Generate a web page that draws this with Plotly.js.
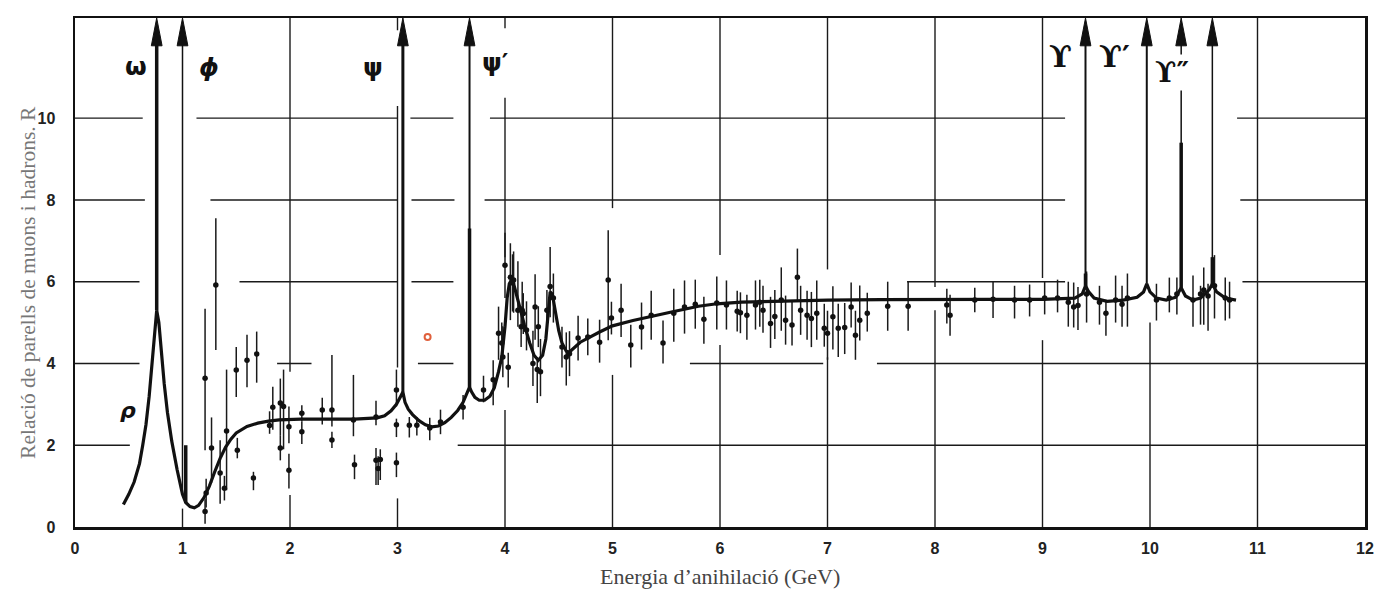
<!DOCTYPE html>
<html>
<head>
<meta charset="utf-8">
<script src="https://cdn.plot.ly/plotly-3.0.1.min.js"></script>
<style>html,body{margin:0;padding:0;background:#fff;}#chart{width:1377px;height:589px;}</style>
</head>
<body>
<div id="chart"></div>
<script>
// ---------- DATA ----------
// theoretical curve
const curveX = [0.45,0.5,0.55,0.6,0.63,0.66,0.69,0.715,0.735,0.76,0.78,0.8,0.83,0.86,0.9,0.95,1.0,1.03,1.07,1.11,1.15,1.2,1.25,1.3,1.35,1.4,1.45,1.5,1.6,1.7,1.8,1.9,2.1,2.4,2.6,2.81,2.88,2.94,2.99,3.03,3.05,3.07,3.1,3.14,3.2,3.26,3.32,3.38,3.44,3.5,3.56,3.61,3.65,3.67,3.69,3.72,3.76,3.81,3.86,3.9,3.94,3.97,4.0,4.02,4.04,4.06,4.08,4.11,4.14,4.18,4.23,4.27,4.31,4.35,4.38,4.4,4.42,4.44,4.47,4.5,4.53,4.57,4.6,4.65,4.7,4.88,5.0,5.19,5.4,5.57,5.8,5.97,6.2,6.6,7.0,7.5,8.0,8.5,9.0,9.3,9.37,9.40,9.43,9.48,9.6,9.75,9.88,9.94,9.97,10.0,10.06,10.15,10.24,10.29,10.33,10.4,10.47,10.55,10.58,10.62,10.7,10.8];
const curveY = [0.55,0.8,1.1,1.55,2.0,2.5,3.2,4.0,4.7,5.3,5.0,4.3,3.5,2.8,2.1,1.4,0.8,0.6,0.5,0.47,0.53,0.72,1.0,1.35,1.68,1.95,2.15,2.3,2.46,2.54,2.59,2.62,2.64,2.64,2.64,2.67,2.72,2.84,3.0,3.2,3.3,3.05,2.88,2.75,2.6,2.5,2.45,2.47,2.55,2.68,2.85,3.05,3.3,3.42,3.3,3.17,3.1,3.1,3.2,3.4,3.8,4.16,4.9,5.6,5.95,6.04,5.95,5.64,5.3,4.95,4.5,4.2,4.08,4.2,4.6,5.3,5.75,5.7,5.2,4.8,4.5,4.3,4.28,4.4,4.52,4.77,4.92,5.05,5.18,5.27,5.4,5.46,5.5,5.53,5.55,5.56,5.57,5.57,5.57,5.6,5.7,5.9,5.75,5.6,5.52,5.55,5.62,5.75,5.95,5.75,5.6,5.55,5.62,5.85,5.65,5.55,5.6,5.8,5.95,5.75,5.6,5.55];

// resonances (arrows to the top of the frame)
const resNames = ['ω','ϕ','ψ','ψ′','ϒ','ϒ′','ϒ″','ϒ(4S)'];
const resX     = [0.76, 1.0, 3.05, 3.67, 9.40, 9.97, 10.29, 10.58];
const resBase  = [5.3, 0.8, 3.3, 3.42, 5.9, 5.95, 5.85, 5.95];
// thick lower parts of some peaks
const spikeX    = [1.03, 3.67, 9.40, 10.29, 10.58];
const spikeBot  = [0.6, 3.42, 5.9, 5.85, 5.95];
const spikeTop  = [2.0, 7.3, 6.2, 9.4, 6.6];

// measured points of R with error bars
const ptX  = [1.31,1.21,1.22,1.21,1.27,1.35,1.41,1.39,1.5,1.6,1.69,1.51,1.66,1.84,1.91,1.94,1.99,1.91,1.99,1.81,2.11,2.11,2.3,2.39,2.39,2.59,2.6,2.8,2.8,2.82,2.84,2.99,2.99,2.99,3.11,3.18,3.3,3.4,3.61,3.8,3.89,3.94,3.97,3.98,4.03,4.0,4.05,4.07,4.08,4.12,4.16,4.15,4.17,4.2,4.26,4.28,4.3,4.31,4.33,4.39,4.42,4.45,4.53,4.57,4.6,4.68,4.77,4.88,4.96,4.99,5.08,5.17,5.27,5.36,5.47,5.57,5.67,5.77,5.85,5.97,6.06,6.16,6.19,6.25,6.33,6.37,6.4,6.47,6.51,6.57,6.61,6.67,6.72,6.75,6.81,6.85,6.9,6.97,7.0,7.05,7.1,7.16,7.22,7.26,7.3,7.37,7.56,7.75,8.11,8.14,8.37,8.54,8.74,8.88,9.02,9.14,9.24,9.29,9.33,9.41,9.53,9.59,9.68,9.74,9.79,10.06,10.18,10.25,10.4,10.47,10.5,10.54,10.6,10.7,10.74];
const ptY  = [5.92,3.64,0.83,0.38,1.93,1.32,2.35,0.95,3.84,4.08,4.23,1.88,1.2,2.93,3.03,2.95,2.45,1.93,1.39,2.48,2.78,2.33,2.86,2.86,2.13,2.62,1.52,2.69,1.63,1.43,1.65,3.35,2.5,1.57,2.49,2.49,2.42,2.57,2.93,3.35,3.6,4.74,4.5,4.16,3.91,6.4,6.11,5.97,6.04,5.3,5.3,4.9,5.22,4.82,4.0,5.38,3.85,4.9,3.8,5.3,5.88,5.6,4.4,4.16,4.24,4.62,4.65,4.52,6.04,5.11,5.3,4.45,4.89,5.18,4.5,5.23,5.38,5.45,5.08,5.48,5.43,5.28,5.24,5.18,5.43,5.5,5.3,4.98,5.15,5.55,5.06,4.94,6.11,5.3,5.18,5.1,5.23,4.86,4.74,5.14,4.86,4.88,5.38,4.69,5.06,5.23,5.4,5.4,5.43,5.18,5.55,5.57,5.55,5.55,5.6,5.6,5.5,5.38,5.42,5.7,5.5,5.23,5.55,5.45,5.6,5.55,5.6,5.7,5.55,5.7,5.8,5.65,5.9,5.6,5.55];
const ptUp = [1.63,1.7,0.35,0.3,0.75,0.8,1.5,0.3,0.56,0.62,0.55,0.3,0.15,0.5,0.6,0.9,0.5,0.3,0.4,0.35,0.2,0.25,0.3,1.35,0.2,1.1,0.25,0.4,0.3,0.3,0.25,0.5,0.15,0.25,0.2,0.2,0.25,0.3,0.3,0.35,0.48,0.65,0.5,0.75,0.35,0.8,0.83,0.7,0.7,1.2,0.7,0.5,0.5,0.7,0.8,0.8,0.3,0.5,0.8,0.5,0.97,0.6,0.5,0.6,0.55,0.55,0.45,0.55,1.22,0.4,0.65,0.5,0.6,0.6,0.55,0.6,0.65,0.6,0.55,0.65,0.6,0.5,0.5,0.5,0.6,0.55,0.6,0.65,0.65,0.8,0.6,0.6,0.7,0.6,0.6,0.65,0.8,0.6,0.55,0.75,0.6,0.6,0.6,0.6,0.85,0.5,0.6,0.6,0.4,0.5,0.3,0.42,0.35,0.38,0.4,0.45,0.5,0.6,0.45,0.55,0.4,0.33,0.6,0.45,0.6,0.4,0.5,0.4,0.6,0.2,0.55,0.3,0.75,0.5,0.45];
const ptDn = [1.59,1.76,0.35,0.3,0.85,0.75,1.45,0.3,0.66,0.66,0.7,0.2,0.3,0.55,0.8,1.05,0.4,0.3,0.45,0.2,0.2,0.3,0.35,0.4,0.2,0.4,0.35,0.2,0.6,0.4,0.5,0.4,0.3,0.35,0.3,0.25,0.3,0.3,0.3,0.3,0.62,0.65,0.5,0.5,0.5,0.8,1.05,0.7,0.8,0.4,0.4,0.5,0.5,0.5,0.55,0.8,0.82,0.5,0.6,0.5,0.75,0.6,0.5,0.7,0.55,0.55,0.45,0.5,1.47,0.4,0.65,0.55,0.55,0.6,0.5,0.7,0.65,0.6,0.6,0.65,0.6,0.5,0.5,0.6,0.6,0.6,0.55,0.6,0.55,0.75,0.6,0.5,0.6,0.6,0.6,0.7,0.65,0.45,0.65,0.8,0.7,0.65,0.5,0.6,0.5,0.45,0.6,0.6,0.45,0.5,0.3,0.46,0.45,0.4,0.4,0.35,0.6,0.5,0.6,0.7,0.55,0.55,0.55,0.55,0.7,0.5,0.35,0.5,0.65,0.75,0.85,0.85,0.8,0.55,0.45];

// broken grid of the original figure: segments [from, to]
const gridVX   = [1, 2, 3, 4, 5, 6, 7, 8, 9, 10, 11];
const gridVSeg = [[[0,0.45]], [[0,0.78],[3.8,12.45]], [[0,0.7],[3.9,10.3],[12.15,12.45]], [[0,2.86],[6.6,10.5],[12.2,12.45]], [[0,3.72],[7.8,12.45]], [[0,4.45],[6.65,12.45]], [[0,4.15],[6.3,12.45]], [[0,5.3],[5.87,12.45]], [[0,4.57],[6.09,12.45]], [[0,5.0]], [[0,12.45]]];
const gridHY   = [2, 4, 6, 8, 10];
const gridHSeg = [[[0,0.51],[3.56,12]], [[0,0.6],[1.88,2.2],[3.19,3.52],[5.72,6.96],[7.46,12]], [[0,0.6],[1.53,3.0],[3.13,3.52],[7.74,9.21],[10.86,12]], [[0,0.65],[1.26,3.0],[3.13,3.53],[3.81,9.21],[10.84,12]], [[0,0.63],[1.13,3.0],[3.12,3.52],[3.86,9.21],[10.81,12]]];

// labels of the peaks
const lblText = ['ω','ϕ','ψ','ψ′','ϒ','ϒ′','ϒ″','ρ'];
const lblX    = [0.57, 1.25, 2.77, 3.91, 9.17, 9.67, 10.2, 0.49];
const lblY    = [11.27, 11.25, 11.25, 11.35, 11.52, 11.52, 11.12, 2.84];

const xTicks = [0,1,2,3,4,5,6,7,8,9,10,11,12];
const yTicks = [0,2,4,6,8,10];
const xTitle = 'Energia d’anihilació (GeV)';
const yTitle = 'Relació de parells de muons i hadrons. R';

// ---------- STYLE ----------
const Y_TOP = 12.45;
const resWidth = [3.5, 1.5, 3, 2, 2, 2, 1.5, 1.5];
const headH = 0.68, headW = 0.05;
const lblFont = [
  {family:'DejaVu Sans', size:25, weight:'bold'},
  {family:'DejaVu Sans', size:25, weight:'bold', style:'italic'},
  {family:'DejaVu Sans', size:25, weight:'bold'},
  {family:'DejaVu Sans', size:25, weight:'bold'},
  {family:'DejaVu Serif', size:30, weight:'bold'},
  {family:'DejaVu Serif', size:30, weight:'bold'},
  {family:'DejaVu Serif', size:28, weight:'bold'},
  {family:'DejaVu Sans', size:22, weight:'bold', style:'italic'}
];

const traces = [];

// grid segments
function segTrace(isV) {
  const xs = [], ys = [];
  const pos = isV ? gridVX : gridHY, segs = isV ? gridVSeg : gridHSeg;
  pos.forEach((p, i) => segs[i].forEach(s => {
    if (isV) { xs.push(p, p, null); ys.push(s[0], s[1], null); }
    else     { xs.push(s[0], s[1], null); ys.push(p, p, null); }
  }));
  return {x: xs, y: ys, mode: 'lines', line: {color: '#1a1a1a', width: 1.4}, hoverinfo: 'skip', showlegend: false};
}
traces.push(segTrace(true), segTrace(false));

// error bar points
traces.push({
  x: ptX, y: ptY, mode: 'markers', type: 'scatter',
  marker: {color: '#111', size: 5.5},
  error_y: {type: 'data', symmetric: false, array: ptUp, arrayminus: ptDn, thickness: 1.5, width: 0, color: '#1a1a1a'},
  showlegend: false
});

// curve
traces.push({x: curveX, y: curveY, mode: 'lines', line: {color: '#111', width: 3.2}, showlegend: false});

// thick lower parts of peaks
spikeX.forEach((sx, i) => traces.push({x: [sx, sx], y: [spikeBot[i], spikeTop[i]], mode: 'lines', line: {color: '#111', width: 3.5}, showlegend: false}));

// resonance lines to the top
resX.forEach((rx, i) => traces.push({x: [rx, rx], y: [resBase[i], Y_TOP - 0.3], mode: 'lines', line: {color: '#111', width: resWidth[i]}, showlegend: false}));

// arrow heads
const hx = [], hy = [];
resX.forEach(rx => { hx.push(rx - headW, rx, rx + headW, rx - headW, null); hy.push(Y_TOP - headH, Y_TOP, Y_TOP - headH, Y_TOP - headH, null); });
traces.push({x: hx, y: hy, mode: 'lines', fill: 'toself', fillcolor: '#111', line: {color: '#111', width: 1}, showlegend: false});

// small reddish mark of the scan
traces.push({x: [3.28], y: [4.65], mode: 'markers', marker: {symbol: 'circle-open', size: 6, color: '#e0603c', line: {width: 2}}, showlegend: false});

const annotations = lblText.map((t, i) => ({
  x: lblX[i], y: lblY[i], xref: 'x', yref: 'y', text: t, showarrow: false,
  font: Object.assign({color: '#111'}, lblFont[i]),
  bgcolor: i === 6 ? '#fff' : 'rgba(0,0,0,0)'
}));
annotations.push({x: 0.5, y: -0.098, xref: 'paper', yref: 'paper', text: xTitle, showarrow: false,
  xanchor: 'center', yanchor: 'middle', font: {family: 'Liberation Serif', size: 22, color: '#444'}});
annotations.push({x: -0.037, y: 0.48, xref: 'paper', yref: 'paper', text: yTitle, showarrow: false, textangle: -90,
  xanchor: 'center', yanchor: 'middle', font: {family: 'Liberation Serif', size: 21.5, color: '#777'}});

const axisCommon = {
  showgrid: false, zeroline: false, showline: true, mirror: true, linecolor: '#111', linewidth: 2.5,
  ticks: '', tickfont: {family: 'Liberation Sans', size: 16, color: '#222'}, fixedrange: true
};

const layout = {
  width: 1377, height: 589,
  margin: {l: 75, r: 12, t: 18, b: 62},
  paper_bgcolor: '#fff', plot_bgcolor: '#fff',
  xaxis: Object.assign({}, axisCommon, {range: [0, 12], tickmode: 'array', tickvals: xTicks, ticktext: xTicks.map(v => '<b>' + v + '</b>'), ticklabelstandoff: 5}),
  yaxis: Object.assign({}, axisCommon, {range: [0, Y_TOP], tickmode: 'array', tickvals: yTicks, ticktext: yTicks.map(v => '<b>' + v + '</b>'), ticklabelstandoff: 14}),
  annotations: annotations,
  showlegend: false
};

Plotly.newPlot('chart', traces, layout, {displayModeBar: false, staticPlot: true});
</script>
</body>
</html>
